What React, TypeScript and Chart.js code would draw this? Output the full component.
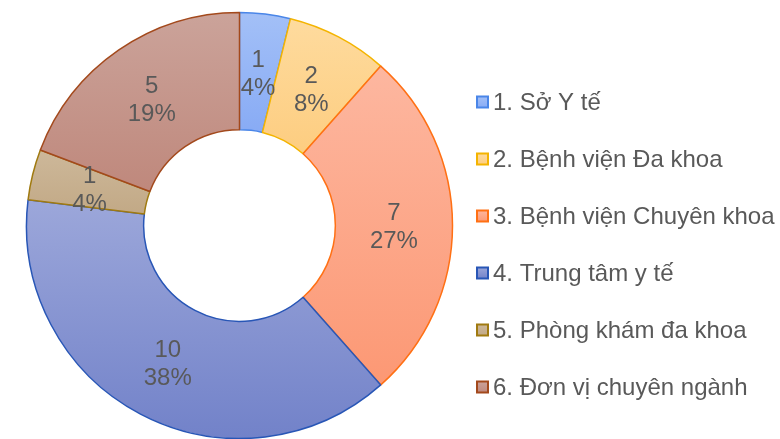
import { useEffect, useRef } from "react";
import { Chart, registerables } from "chart.js";

Chart.register(...registerables);

const categories = [
  "1. Sở Y tế",
  "2. Bệnh viện Đa khoa",
  "3. Bệnh viện Chuyên khoa",
  "4. Trung tâm y tế",
  "5. Phòng khám đa khoa",
  "6. Đơn vị chuyên ngành",
];
const counts = [1, 2, 7, 10, 1, 5];
const topColors = ["#a3c0f7", "#fedb9e", "#fdb7a0", "#9ca7da", "#cdb89a", "#cba39a"];
const bottomColors = ["#88abf5", "#fdcd80", "#fc9874", "#7282c9", "#c2a986", "#bf887c"];
const borderColors = ["#4a86e8", "#f4b400", "#ff7014", "#2856b6", "#a07a10", "#a3491c"];

const FONT = "Arial, 'Liberation Sans', sans-serif";
const TEXT_COLOR = "#595959";

export default function App() {
  const ref = useRef<HTMLCanvasElement | null>(null);

  useEffect(() => {
    const canvas = ref.current;
    if (!canvas) return;
    const total = counts.reduce((a, b) => a + b, 0);

    const gradientPlugin = {
      id: "sliceGradient",
      beforeDatasetsDraw(chart: any) {
        const ctx = chart.ctx as CanvasRenderingContext2D;
        const meta = chart.getDatasetMeta(0);
        meta.data.forEach((arc: any, i: number) => {
          const { y, startAngle, endAngle, innerRadius, outerRadius } = arc.getProps(
            ["y", "startAngle", "endAngle", "innerRadius", "outerRadius"],
            true
          );
          let minY = Infinity;
          let maxY = -Infinity;
          const n = 60;
          for (let k = 0; k <= n; k++) {
            const a = startAngle + ((endAngle - startAngle) * k) / n;
            for (const r of [innerRadius, outerRadius]) {
              const yy = y + r * Math.sin(a);
              if (yy < minY) minY = yy;
              if (yy > maxY) maxY = yy;
            }
          }
          const g = ctx.createLinearGradient(0, minY, 0, maxY);
          g.addColorStop(0, topColors[i]);
          g.addColorStop(1, bottomColors[i]);
          arc.options.backgroundColor = g;
        });
      },
      afterDatasetsDraw(chart: any) {
        const ctx = chart.ctx as CanvasRenderingContext2D;
        const meta = chart.getDatasetMeta(0);
        ctx.save();
        ctx.fillStyle = TEXT_COLOR;
        ctx.font = `24px ${FONT}`;
        ctx.textAlign = "center";
        ctx.textBaseline = "middle";
        meta.data.forEach((arc: any, i: number) => {
          const p = arc.tooltipPosition(true);
          const pct = Math.round((counts[i] / total) * 100) + "%";
          ctx.fillText(String(counts[i]), p.x, p.y - 12);
          ctx.fillText(pct, p.x, p.y + 16);
        });
        ctx.restore();
      },
      afterDraw(chart: any) {
        const ctx = chart.ctx as CanvasRenderingContext2D;
        ctx.save();
        ctx.font = `24px ${FONT}`;
        ctx.textAlign = "left";
        ctx.textBaseline = "middle";
        categories.forEach((label, i) => {
          const cy = 102 + i * 57;
          const g = ctx.createLinearGradient(0, cy - 6, 0, cy + 6);
          g.addColorStop(0, topColors[i]);
          g.addColorStop(1, bottomColors[i]);
          ctx.fillStyle = g;
          ctx.fillRect(477, cy - 5.5, 11, 11);
          ctx.strokeStyle = borderColors[i];
          ctx.lineWidth = 2;
          ctx.strokeRect(477, cy - 5.5, 11, 11);
          ctx.fillStyle = TEXT_COLOR;
          ctx.fillText(label, 493, cy + 1);
        });
        ctx.restore();
      },
    };

    const chart = new Chart(canvas, {
      type: "doughnut",
      data: {
        labels: categories,
        datasets: [
          {
            data: counts,
            backgroundColor: bottomColors,
            borderColor: borderColors,
            borderWidth: 1.5,
            radius: 213,
          },
        ],
      },
      options: {
        responsive: false,
        animation: false,
        cutout: "45%",
        layout: { padding: { left: 0, right: 301, top: 12, bottom: 0 } },
        plugins: {
          legend: { display: false },
          tooltip: { enabled: false },
        },
      },
      plugins: [gradientPlugin],
    });
    return () => chart.destroy();
  }, []);

  return (
    <div style={{ position: "fixed", left: 0, top: 0, width: 780, height: 439, background: "#fff" }}>
      <canvas ref={ref} width={780} height={439} style={{ display: "block", width: 780, height: 439 }} />
    </div>
  );
}
